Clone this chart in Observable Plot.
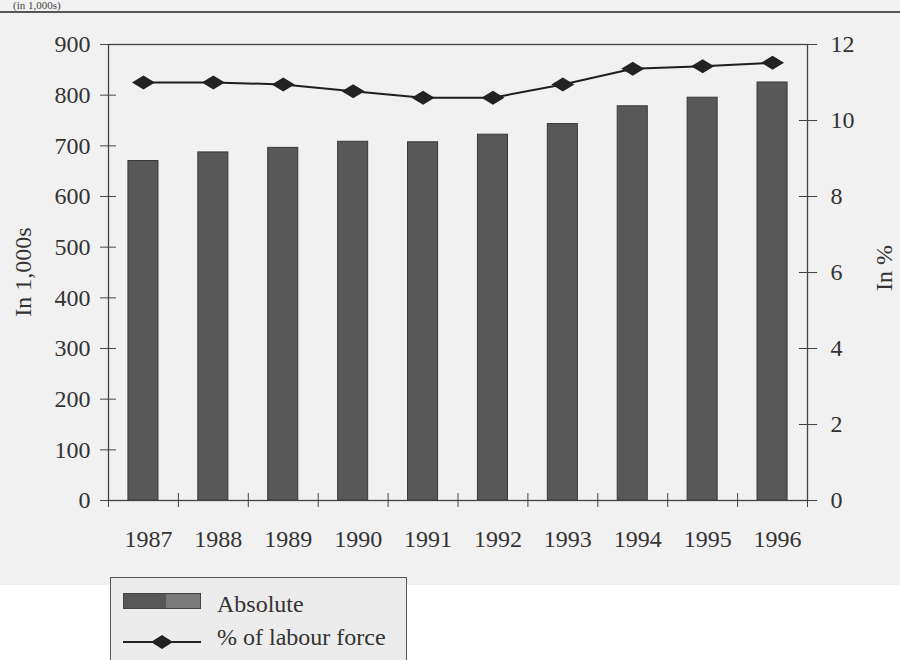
<!DOCTYPE html>
<html>
<head>
<meta charset="utf-8">
<script src="https://cdn.jsdelivr.net/npm/d3@7"></script>
<script src="https://cdn.jsdelivr.net/npm/@observablehq/plot@0.6"></script>
<style>
  html, body { margin: 0; padding: 0; }
  body { width: 900px; height: 660px; position: relative; overflow: hidden; background: #ffffff;
         font-family: "Liberation Serif", "DejaVu Serif", serif; color: #333; }
  #bg { position: absolute; left: 0; top: 0; width: 900px; height: 585px; background: #f1f1f1; }
  #head { position: absolute; left: 13px; top: 0px; font-size: 11px; line-height: 11px; color: #444; }
  #rule { position: absolute; left: 0; top: 11px; width: 900px; height: 2px; background: #555; }
  #chart { position: absolute; left: 0; top: 0; }
  .ytitle { position: absolute; font-size: 24px; line-height: 24px; white-space: nowrap; transform: translate(-50%, -50%) rotate(-90deg); color: #333; }
  #legend { position: absolute; left: 110px; top: 577px; width: 295px; height: 100px; border: 1.5px solid #555; background: #ececec; }
  .ltext { position: absolute; left: 106px; font-size: 24px; line-height: 24px; white-space: nowrap; color: #333; }
  #sw { position: absolute; left: 12px; top: 15px; width: 76px; height: 14px; border: 1px solid #444;
        background: linear-gradient(to right, #575757 0%, #575757 55%, #7a7a7a 55%, #7a7a7a 100%); }
  #lsw { position: absolute; left: 12px; top: 56px; }
</style>
</head>
<body>
<div id="bg"></div>
<div id="head">(in 1,000s)</div>
<div id="rule"></div>
<div id="chart"></div>
<div class="ytitle" style="left:23px; top:272px;">In 1,000s</div>
<div class="ytitle" style="left:884px; top:268px;">In %</div>
<div id="legend">
  <div id="sw"></div>
  <div class="ltext" style="top:14px;">Absolute</div>
  <svg id="lsw" width="80" height="16"><line x1="0" y1="8" x2="78" y2="8" stroke="#222" stroke-width="2"/><path d="M28,8 L39,1 L50,8 L39,15 Z" fill="#222"/></svg>
  <div class="ltext" style="top:47px;">% of labour force</div>
</div>
<script>
// Data
const years = [1987, 1988, 1989, 1990, 1991, 1992, 1993, 1994, 1995, 1996];
const absolute = [670, 687, 696, 708, 707, 722, 743, 778, 795, 825];      // in 1,000s
const percent = [11.0, 11.0, 10.95, 10.77, 10.6, 10.6, 10.95, 11.36, 11.43, 11.52]; // % of labour force
const leftTicks = [0, 100, 200, 300, 400, 500, 600, 700, 800, 900];
const rightTicks = [0, 2, 4, 6, 8, 10, 12];

const leftMax = 900, rightMax = 12;
const k = leftMax / rightMax; // map % onto the left scale

const data = years.map((y, i) => ({i, year: y, abs: absolute[i], pct: percent[i]}));

const diamond = {
  draw(ctx, size) {
    const w = 11.5, h = 7;
    ctx.moveTo(-w, 0); ctx.lineTo(0, -h); ctx.lineTo(w, 0); ctx.lineTo(0, h); ctx.closePath();
  }
};

const font = 24;
const chart = Plot.plot({
  width: 900,
  height: 585,
  marginLeft: 108,
  marginRight: 93,
  marginTop: 44,
  marginBottom: 85,
  style: {fontFamily: "'Liberation Serif', serif", fontSize: font + "px", background: "transparent", color: "#333"},
  x: {domain: [0, years.length], axis: null},
  y: {domain: [0, leftMax], axis: null},
  marks: [
    Plot.rectY(data, {x1: d => d.i + 0.285, x2: d => d.i + 0.715, y: "abs", fill: "#585858", stroke: "#383838", strokeWidth: 1}),
    Plot.frame({stroke: "#444", strokeWidth: 1.3}),
    // left axis: ticks crossing the axis, then labels
    Plot.axisY({ticks: leftTicks, tickSize: 16, dx: 8, tickFormat: () => "", label: null, stroke: "#444"}),
    Plot.axisY({ticks: leftTicks, tickSize: 0, tickPadding: 18, tickFormat: d => String(d), label: null, fontSize: font, fill: "#333"}),
    // right axis (%)
    Plot.axisY({anchor: "right", ticks: rightTicks.map(t => t * k), tickSize: 18, dx: -9, tickFormat: () => "", label: null, stroke: "#444"}),
    Plot.axisY({anchor: "right", ticks: rightTicks.map(t => t * k), tickSize: 0, tickPadding: 23, tickFormat: d => String(Math.round(d / k)), label: null, fontSize: font, fill: "#333"}),
    // x axis: ticks at category boundaries, labels at centers
    Plot.axisX({ticks: d3.range(0, years.length + 1), tickSize: 14, dy: -7, tickFormat: () => "", label: null, stroke: "#444"}),
    Plot.axisX({ticks: years.map((y, i) => i + 0.5), tickSize: 0, tickPadding: 29, dx: 5, tickFormat: d => String(years[Math.floor(d)]), label: null, fontSize: font, fill: "#333"}),
    // line
    Plot.line(data, {x: d => d.i + 0.5, y: d => d.pct * k, stroke: "#1e1e1e", strokeWidth: 2}),
    Plot.dot(data, {x: d => d.i + 0.5, y: d => d.pct * k, symbol: diamond, r: 8, fill: "#222", stroke: "none"})
  ]
});
document.getElementById("chart").appendChild(chart);
</script>
</body>
</html>
